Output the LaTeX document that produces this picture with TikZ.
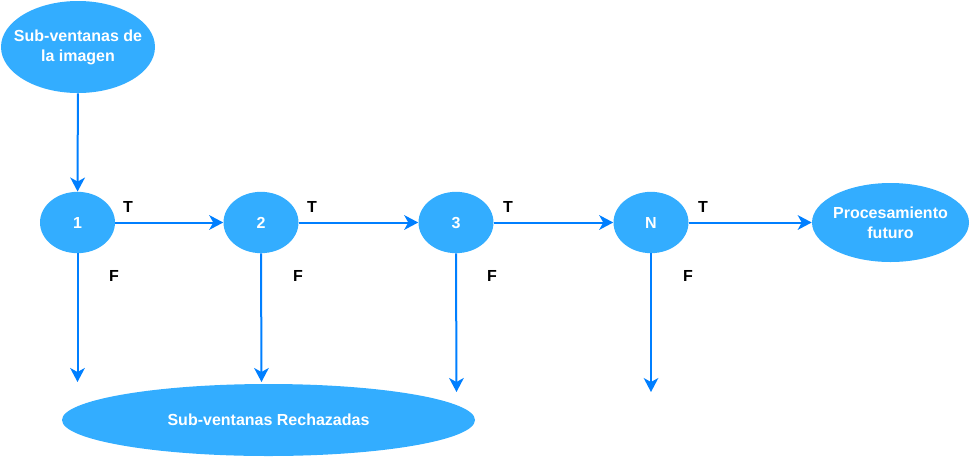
\documentclass[tikz,border=0pt]{standalone}
\usepackage{fontspec}
\setmainfont{Liberation Sans}
\usetikzlibrary{shapes.geometric,arrows.meta}
\definecolor{nodefill}{HTML}{33ADFF}
\definecolor{edgecol}{HTML}{007FFF}
\tikzset{
  blob/.style={ellipse, fill=nodefill, draw=none, inner sep=0pt, text=white,
    font=\fontsize{12}{15}\selectfont\bfseries, align=center},
  conn/.style={draw=edgecol, line width=1.5pt, -{Stealth[length=10.5pt,width=11pt,inset=3pt]}},
  lbl/.style={font=\fontsize{12}{15}\selectfont\bfseries, text=black, inner sep=0pt}
}
\begin{document}
\begin{tikzpicture}[x=0.75pt,y=-0.75pt]
\useasboundingbox (0,0) rectangle (971,458);
\node[blob, inner xsep=-8pt, inner ysep=-4pt, minimum width=115.5pt, minimum height=69pt] (top) at (78,47) {Sub-ventanas de\\la imagen};
\node[blob, minimum width=56.25pt, minimum height=46pt] (n1) at (77.5,222.5) {1};
\node[blob, minimum width=56.25pt, minimum height=46pt] (n2) at (261,222.5) {2};
\node[blob, minimum width=56.25pt, minimum height=46pt] (n3) at (456,222.5) {3};
\node[blob, minimum width=56.25pt, minimum height=46pt] (nN) at (651,222.5) {N};
\node[blob, inner xsep=-3pt, inner ysep=-3pt, minimum width=117.75pt, minimum height=59.25pt] (proc) at (890.5,222.5) {Procesamiento\\futuro};
\node[blob, minimum width=309.75pt, minimum height=54pt] (rej) at (268.5,420) {Sub-ventanas Rechazadas};
\coordinate (d1) at (77.5,382);
\coordinate (d2) at (261.5,382);
\coordinate (d3) at (456.5,392);
\coordinate (dN) at (651,392);
\draw[conn] (top) -- (n1);
\draw[conn] (n1) -- (n2);
\draw[conn] (n2) -- (n3);
\draw[conn] (n3) -- (nN);
\draw[conn] (nN) -- (proc);
\draw[conn] (n1.south) -- (d1);
\draw[conn] (n2.south) -- (d2);
\draw[conn] (n3.south) -- (d3);
\draw[conn] (nN.south) -- (dN);
\node[lbl] (t1) at (128,207) {T};
\node[lbl] (t2) at (312,207) {T};
\node[lbl] (t3) at (508,207) {T};
\node[lbl] (t4) at (703,207) {T};
\node[lbl] (f1) at (114,276) {F};
\node[lbl] (f2) at (298,276) {F};
\node[lbl] (f3) at (492,276) {F};
\node[lbl] (f4) at (688,276) {F};
\end{tikzpicture}
\end{document}
